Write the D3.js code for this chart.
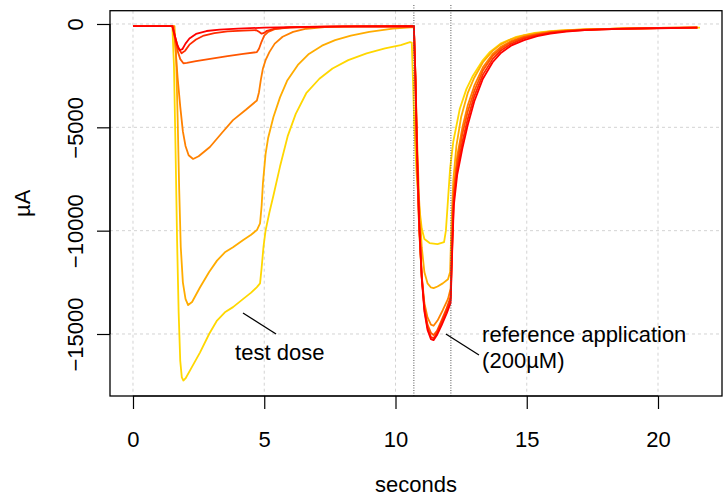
<!DOCTYPE html>
<html><head><meta charset="utf-8">
<script src="https://cdn.jsdelivr.net/npm/d3@7"></script>
<style>body{margin:0;background:#fff}svg{display:block}text{font-family:"Liberation Sans",Arial,sans-serif}</style>
</head><body>
<svg id="c" width="726" height="499"></svg>
<script>
const xTicks=[0,5,10,15,20];
const yTicks=[0,-5000,-10000,-15000];
const markerTimes=[10.70,12.11];
const traceColors=["#FFD700","#FFAC00","#FF8100","#FF5600","#FF2B00","#FF0000"];
const traceF=[[0,-100],[1.5,-100],[1.56,-2000],[1.62,-6000],[1.68,-10500],[1.74,-14000],[1.8,-16300],[1.86,-17100],[1.92,-17250],[2.0,-17150],[2.2,-16700],[2.55,-15900],[2.9,-15000],[3.2,-14350],[3.5,-13950],[3.81,-13700],[4.2,-13300],[4.5,-13000],[4.72,-12730],[4.84,-12550],[4.9,-11800],[4.97,-10800],[5.05,-10000],[5.2,-9100],[5.35,-8300],[5.6,-6900],[5.9,-5400],[6.2,-4350],[6.6,-3350],[7.1,-2650],[7.6,-2150],[8.2,-1750],[8.9,-1420],[9.6,-1180],[10.2,-1020],[10.55,-880],[10.62,-900],[10.66,-2500],[10.72,-5000],[10.8,-7200],[10.9,-8800],[11.0,-9900],[11.1,-10400],[11.3,-10600],[11.6,-10650],[11.85,-10550],[11.92,-10000],[12.0,-8500],[12.08,-7000],[12.2,-5700],[12.45,-4100],[12.7,-3150],[12.95,-2500],[13.3,-1800],[13.6,-1350],[14.0,-950],[14.6,-620],[15.3,-430],[16.0,-340],[17,-270],[18.5,-225],[20,-200],[21.6,-175]];
const traceE=[[0,-100],[1.58,-100],[1.64,-1500],[1.7,-4500],[1.76,-8000],[1.82,-10800],[1.9,-12500],[2.0,-13300],[2.1,-13600],[2.25,-13450],[2.55,-12750],[2.9,-12000],[3.2,-11450],[3.5,-11050],[3.81,-10800],[4.2,-10450],[4.5,-10200],[4.72,-9970],[4.84,-9650],[4.9,-8800],[4.95,-7700],[5.05,-6300],[5.15,-5500],[5.35,-4500],[5.6,-3550],[5.87,-2750],[6.3,-1950],[6.7,-1450],[7.2,-1050],[7.7,-780],[8.3,-560],[9.0,-380],[9.9,-220],[10.7,-150],[10.76,-2500],[10.82,-5500],[10.9,-8500],[11.0,-10800],[11.1,-12000],[11.22,-12550],[11.35,-12750],[11.45,-12780],[11.6,-12700],[11.8,-12550],[12.0,-12350],[12.08,-12000],[12.13,-9800],[12.2,-7600],[12.32,-5900],[12.5,-4500],[12.75,-3350],[13.0,-2600],[13.33,-1850],[13.7,-1300],[14.0,-1000],[14.4,-740],[14.9,-550],[15.4,-440],[15.9,-360],[16.5,-300],[17.2,-260],[18.5,-220],[20.0,-195],[21.5,-175]];
const traceD=[[0,-100],[1.55,-100],[1.62,-1200],[1.7,-2600],[1.8,-4000],[1.9,-5200],[2.0,-5900],[2.12,-6350],[2.29,-6530],[2.5,-6400],[2.93,-5950],[3.4,-5250],[3.81,-4650],[4.3,-4150],[4.72,-3700],[4.8,-3300],[4.87,-2700],[4.95,-2150],[5.05,-1750],[5.2,-1350],[5.4,-950],[5.7,-620],[6.1,-380],[6.6,-230],[7.3,-150],[8.5,-120],[10.7,-110],[10.76,-3000],[10.82,-6800],[10.9,-9900],[11.0,-12200],[11.1,-13500],[11.22,-14200],[11.35,-14550],[11.45,-14600],[11.6,-14350],[11.8,-13850],[12.0,-13300],[12.1,-12800],[12.16,-10300],[12.22,-8000],[12.35,-6400],[12.55,-5000],[12.75,-3950],[13.0,-3000],[13.33,-2100],[13.7,-1450],[14.0,-1120],[14.4,-830],[14.9,-610],[15.4,-480],[15.9,-390],[16.5,-320],[17.2,-270],[18.5,-225],[20.0,-195],[21.5,-175]];
const traceC=[[0,-100],[1.5,-100],[1.6,-700],[1.7,-1300],[1.8,-1700],[1.92,-1900],[2.05,-1880],[2.4,-1800],[3.0,-1680],[3.6,-1560],[4.2,-1450],[4.72,-1360],[4.8,-1200],[4.9,-850],[5.0,-560],[5.15,-380],[5.4,-250],[5.8,-180],[6.5,-140],[8.0,-120],[10.7,-110],[10.76,-2800],[10.82,-6500],[10.9,-9800],[11.0,-12300],[11.1,-13700],[11.22,-14550],[11.35,-14950],[11.45,-15050],[11.58,-14850],[11.75,-14350],[11.95,-13750],[12.1,-13200],[12.16,-10500],[12.22,-8200],[12.35,-6700],[12.55,-5300],[12.75,-4250],[13.0,-3250],[13.33,-2250],[13.7,-1550],[14.0,-1200],[14.4,-880],[14.9,-640],[15.4,-500],[15.9,-400],[16.5,-330],[17.2,-275],[18.5,-225],[20.0,-195],[21.5,-170]];
const traceB=[[0,-100],[1.5,-100],[1.6,-600],[1.72,-1150],[1.85,-1420],[1.98,-1300],[2.15,-1000],[2.4,-750],[2.7,-560],[3.1,-440],[3.6,-360],[4.2,-320],[4.7,-300],[4.8,-380],[4.9,-470],[5.0,-430],[5.1,-330],[5.4,-230],[6.0,-170],[7.5,-130],[10.7,-110],[10.76,-2600],[10.82,-6200],[10.9,-9600],[11.0,-12200],[11.1,-13800],[11.22,-14700],[11.35,-15150],[11.45,-15200],[11.58,-14950],[11.75,-14450],[11.95,-13850],[12.1,-13300],[12.16,-10800],[12.22,-8500],[12.35,-7000],[12.55,-5700],[12.75,-4600],[13.0,-3500],[13.33,-2450],[13.7,-1700],[14.0,-1300],[14.4,-960],[14.9,-700],[15.4,-540],[15.9,-430],[16.5,-350],[17.2,-290],[18.5,-235],[20.0,-200],[21.5,-175]];
const traceA=[[0,-100],[1.5,-100],[1.58,-500],[1.68,-1000],[1.78,-1260],[1.88,-1220],[2.0,-950],[2.15,-700],[2.4,-480],[2.8,-340],[3.3,-270],[4.0,-220],[5.0,-180],[6.0,-150],[8.0,-120],[10.7,-100],[10.76,-2500],[10.82,-6000],[10.9,-9500],[11.0,-12300],[11.1,-13900],[11.22,-14800],[11.35,-15250],[11.45,-15300],[11.58,-15050],[11.75,-14600],[11.95,-14000],[12.1,-13500],[12.16,-11000],[12.22,-8800],[12.35,-7300],[12.55,-6000],[12.75,-4900],[13.0,-3750],[13.33,-2650],[13.7,-1850],[14.0,-1420],[14.4,-1050],[14.9,-780],[15.4,-590],[15.9,-460],[16.5,-370],[17.2,-300],[18.5,-240],[20.0,-205],[21.5,-180]];
const traces=[traceF,traceE,traceD,traceC,traceB,traceA];

const L=110,R=722,T=10.7,B=396;
const x=d3.scaleLinear().domain([-0.876,22.438]).range([L,R]);
const y=d3.scaleLinear().domain([-18000,643]).range([B,T]);
const svg=d3.select("#c");
const fs=22;

// grid
svg.append("g").selectAll("line").data(xTicks).join("line")
 .attr("x1",d=>x(d)).attr("x2",d=>x(d)).attr("y1",T).attr("y2",B)
 .attr("stroke","#d3d3d3").attr("stroke-width",1).attr("stroke-dasharray","3,3");
svg.append("g").selectAll("line").data(yTicks).join("line")
 .attr("x1",L).attr("x2",R).attr("y1",d=>y(d)).attr("y2",d=>y(d))
 .attr("stroke","#d3d3d3").attr("stroke-width",1).attr("stroke-dasharray","3,3");

// traces
const line=d3.line().x(d=>x(d[0])).y(d=>y(d[1]));
svg.append("g").selectAll("path").data(traces).join("path")
 .attr("d",line).attr("fill","none")
 .attr("stroke",(d,i)=>traceColors[i]).attr("stroke-width",1.8).attr("stroke-linejoin","round");

// marker lines
svg.append("g").selectAll("line").data(markerTimes).join("line")
 .attr("x1",d=>x(d)).attr("x2",d=>x(d)).attr("y1",5).attr("y2",B)
 .attr("stroke","#555").attr("stroke-width",1).attr("stroke-dasharray","1,1.5");

// box
svg.append("rect").attr("x",L).attr("y",T).attr("width",R-L).attr("height",B-T)
 .attr("fill","none").attr("stroke","#000").attr("stroke-width",1.3);

// x axis
const xa=svg.append("g").attr("transform",`translate(0,${B})`)
 .call(d3.axisBottom(x).tickValues(xTicks).tickSize(13).tickPadding(0).tickFormat(d3.format("d")));
xa.select(".domain").attr("d",`M${x(0)},0H${x(20)}`).attr("stroke-width",1.2);
xa.selectAll(".tick line").attr("stroke-width",1.2);
xa.selectAll(".tick text").attr("y",null).attr("dy",null).attr("transform","translate(0,51)")
 .style("font-size",fs+"px").attr("font-family",null).attr("fill","#000");
xa.attr("font-family",null).attr("font-size",null);

// y axis
const ya=svg.append("g").attr("transform",`translate(${L},0)`)
 .call(d3.axisLeft(y).tickValues(yTicks).tickSize(13).tickFormat(d3.format("d")));
ya.select(".domain").attr("d",`M0,${y(0)}V${y(-15000)}`).attr("stroke-width",1.2);
ya.selectAll(".tick line").attr("stroke-width",1.2);
ya.selectAll(".tick text").attr("x",null).attr("dy",null)
 .attr("transform","translate(-27,0) rotate(-90)").attr("text-anchor","middle")
 .style("font-size",fs+"px").attr("fill","#000");
ya.attr("font-family",null).attr("font-size",null);

// axis titles
svg.append("text").attr("x",(L+R)/2).attr("y",492).attr("text-anchor","middle")
 .style("font-size",fs+"px").text("seconds");
svg.append("text").attr("transform",`translate(30,${(T+B)/2}) rotate(-90)`).attr("text-anchor","middle")
 .style("font-size",fs+"px").text("µA");

// annotations
svg.append("line").attr("x1",x(4.19)).attr("y1",y(-13985)).attr("x2",x(5.45)).attr("y2",y(-15000))
 .attr("stroke","#000").attr("stroke-width",1.3);
svg.append("text").attr("x",x(3.89)).attr("y",y(-16240)).style("font-size",fs+"px").text("test dose");
svg.append("line").attr("x1",x(11.92)).attr("y1",y(-15000)).attr("x2",x(13.18)).attr("y2",y(-16017))
 .attr("stroke","#000").attr("stroke-width",1.3);
svg.append("text").attr("x",x(13.30)).attr("y",y(-15390)).style("font-size",fs+"px").text("reference application");
svg.append("text").attr("x",x(13.30)).attr("y",y(-16650)).style("font-size",fs+"px").text("(200µM)");
</script>
</body></html>
